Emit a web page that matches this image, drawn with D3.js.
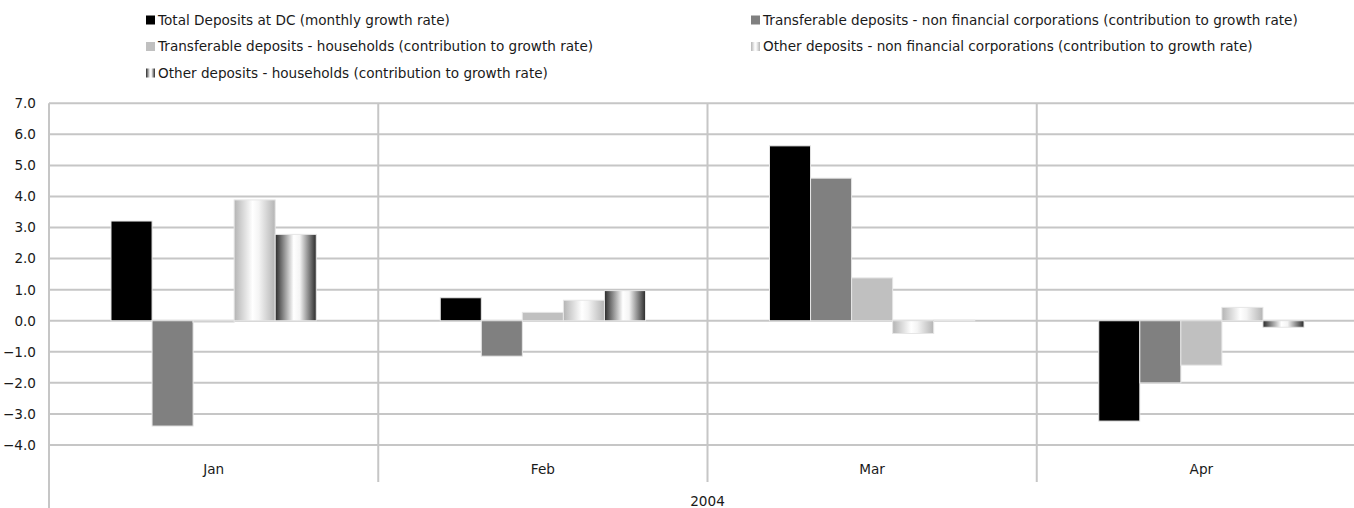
<!DOCTYPE html>
<html>
<head>
<meta charset="utf-8">
<script src="https://cdn.jsdelivr.net/npm/d3@7"></script>
<style>
  html, body { margin: 0; padding: 0; background: #fff; }
  svg { display: block; }
  text { font-family: "DejaVu Sans", sans-serif; fill: #1a1a1a; }
</style>
</head>
<body>
<svg id="chart" width="1354" height="508"></svg>
<script>
const months = ["Jan", "Feb", "Mar", "Apr"];
const yearLabel = "2004";
const seriesNames = [
  "Total Deposits at DC (monthly growth rate)",
  "Transferable deposits - non financial corporations (contribution to growth rate)",
  "Transferable deposits - households (contribution to growth rate)",
  "Other deposits - non financial corporations (contribution to growth rate)",
  "Other deposits - households (contribution to growth rate)"
];
const totalDeposits      = [3.21, 0.74, 5.63, -3.23];
const transferableNFC    = [-3.39, -1.14, 4.59, -2.00];
const transferableHH     = [-0.05, 0.27, 1.38, -1.43];
const otherNFC           = [3.89, 0.66, -0.41, 0.43];
const otherHH            = [2.78, 0.97, 0.02, -0.21];
const yTicks = [-4, -3, -2, -1, 0, 1, 2, 3, 4, 5, 6, 7];

const seriesValues = [totalDeposits, transferableNFC, transferableHH, otherNFC, otherHH];
const fills = ["#000000", "#808080", "#c0c0c0", "url(#gradNFC)", "url(#gradHH)"];

const svg = d3.select("#chart");
const defs = svg.append("defs");
function grad(id, stops) {
  const g = defs.append("linearGradient").attr("id", id)
    .attr("x1", "0%").attr("x2", "100%").attr("y1", "0%").attr("y2", "0%");
  stops.forEach(s => g.append("stop").attr("offset", s[0]).attr("stop-color", s[1]));
}
grad("gradNFC", [["0%", "#b4b4b4"], ["45%", "#ffffff"], ["60%", "#f4f4f4"], ["100%", "#b4b4b4"]]);
grad("gradHH", [["0%", "#2a2a2a"], ["45%", "#ffffff"], ["60%", "#f4f4f4"], ["100%", "#2a2a2a"]]);

const pLeft = 49, pRight = 1366, pTop = 103.3, pBottom = 445;
const y = d3.scaleLinear().domain([-4, 7]).range([pBottom, pTop]);
const x = d3.scaleBand().domain(months).range([pLeft, pRight]).paddingInner(0).paddingOuter(0);
const xs = d3.scaleBand().domain(d3.range(seriesNames.length))
  .range([62, x.bandwidth() - 62]).padding(0);

const fontFam = '"DejaVu Sans", sans-serif';
const fs = "13.6px";

// gridlines
const grid = svg.append("g");
grid.selectAll("line").data(yTicks).join("line")
  .attr("x1", pLeft).attr("x2", 1354)
  .attr("y1", d => y(d)).attr("y2", d => y(d))
  .attr("stroke", "#c6c6c6").attr("stroke-width", 2);

// y axis labels via d3 axis
const yAxis = d3.axisLeft(y).tickValues(yTicks).tickFormat(d3.format(".1f")).tickSize(0).tickPadding(0);
const ya = svg.append("g").attr("transform", "translate(36,0)").call(yAxis);
ya.select(".domain").remove();
ya.selectAll("text").style("font-size", fs).attr("fill", "#1a1a1a").style("font-family", fontFam);

// bars
const groups = svg.append("g").selectAll("g").data(months).join("g")
  .attr("transform", d => `translate(${x(d)},0)`);
groups.selectAll("rect").data((m, i) => seriesValues.map((s, k) => ({ k, v: s[i] })))
  .join("rect")
  .attr("x", d => xs(d.k))
  .attr("width", xs.bandwidth())
  .attr("y", d => Math.min(y(d.v), y(0)))
  .attr("height", d => Math.max(Math.abs(y(d.v) - y(0)), 0.8))
  .attr("fill", d => fills[d.k])
  .attr("stroke", "#e6e6e6").attr("stroke-width", 1);

// vertical separators
const seps = svg.append("g");
seps.selectAll("line").data(months.slice(1)).join("line")
  .attr("x1", d => x(d)).attr("x2", d => x(d))
  .attr("y1", pTop).attr("y2", 482)
  .attr("stroke", "#c6c6c6").attr("stroke-width", 2);
svg.append("line").attr("x1", pLeft).attr("x2", pLeft).attr("y1", pTop).attr("y2", 508)
  .attr("stroke", "#c6c6c6").attr("stroke-width", 2);

// month labels
const xAxis = d3.axisBottom(x).tickSize(0).tickPadding(0);
const xa = svg.append("g").attr("transform", "translate(0,464)").call(xAxis);
xa.select(".domain").remove();
xa.selectAll("text").style("font-size", fs).attr("fill", "#1a1a1a").style("font-family", fontFam);

svg.append("text").attr("x", (pLeft + pRight) / 2).attr("y", 506)
  .attr("text-anchor", "middle").style("font-size", fs).text(yearLabel);

// legend
const legendPos = [
  [146, 20], [751, 20],
  [146, 46.5], [751, 46.5],
  [146, 73]
];
const lg = svg.append("g").selectAll("g").data(seriesNames).join("g")
  .attr("transform", (d, i) => `translate(${legendPos[i][0]},${legendPos[i][1]})`);
lg.append("rect").attr("x", 0).attr("y", -4.5).attr("width", 9).attr("height", 9)
  .attr("fill", (d, i) => fills[i]);
lg.append("text").attr("x", 12).attr("y", 0).attr("dy", "0.36em")
  .style("font-size", fs).text(d => d);
</script>
</body>
</html>
